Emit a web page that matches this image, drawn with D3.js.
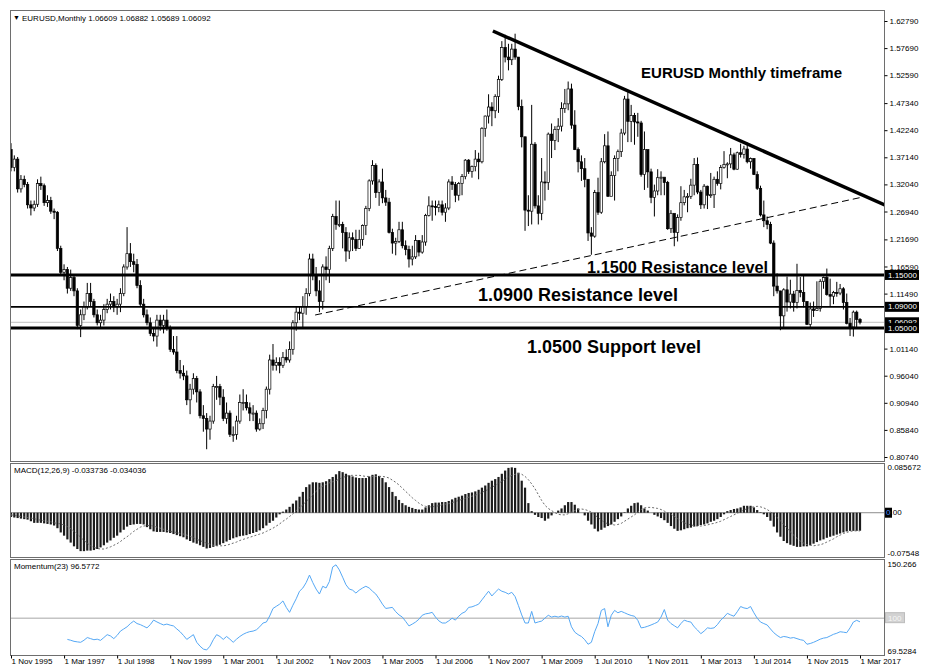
<!DOCTYPE html>
<html>
<head>
<meta charset="utf-8">
<title>EURUSD Monthly</title>
<script src="https://cdn.jsdelivr.net/npm/d3@7"></script>
<style>
  body { margin: 0; background: #fff; }
  svg text { font-family: "Liberation Sans", Arial, sans-serif; }
</style>
</head>
<body>
<div id="chart"></div>
<script>
// Monthly bars from 1 Nov 1995 to 1 Mar 2017 (index 0 .. 256)
// each bar opens where the previous one closed
var firstOpen = 1.386;
var closes = [1.352,1.368,
  1.312,1.330,1.320,1.282,1.276,1.283,1.322,1.318,1.286,1.290,1.270,1.268,
  1.200,1.155,1.160,1.125,1.145,1.120,1.055,1.075,1.090,1.115,1.100,1.075,
  1.060,1.065,1.085,1.095,1.100,1.090,1.095,1.115,1.165,1.190,1.175,1.170,
  1.130,1.095,1.075,1.060,1.040,1.035,1.065,1.055,1.065,1.050,1.010,1.005,
  0.970,0.965,0.960,0.915,0.935,0.955,0.930,0.885,0.880,0.860,0.875,0.940,
  0.940,0.920,0.880,0.890,0.850,0.850,0.875,0.910,0.910,0.900,0.890,0.890,
  0.860,0.870,0.895,0.935,0.990,0.980,0.985,0.980,0.995,0.990,1.010,1.060,
  1.080,1.078,1.090,1.115,1.180,1.150,1.120,1.100,1.165,1.160,1.200,1.260,
  1.245,1.245,1.230,1.195,1.220,1.217,1.200,1.217,1.243,1.275,1.327,1.356,
  1.305,1.325,1.295,1.287,1.230,1.210,1.213,1.235,1.205,1.198,1.180,1.184,
  1.215,1.193,1.212,1.262,1.280,1.279,1.277,1.282,1.268,1.276,1.325,1.320,
  1.300,1.322,1.335,1.366,1.345,1.354,1.368,1.363,1.426,1.449,1.466,1.459,
  1.486,1.518,1.578,1.560,1.555,1.575,1.560,1.467,1.410,1.272,1.270,1.396,
  1.280,1.266,1.325,1.324,1.415,1.403,1.424,1.430,1.463,1.472,1.500,1.432,
  1.386,1.363,1.350,1.330,1.229,1.223,1.305,1.268,1.363,1.393,1.298,1.337,
  1.369,1.382,1.417,1.481,1.439,1.450,1.438,1.436,1.339,1.386,1.344,1.296,
  1.308,1.333,1.334,1.324,1.237,1.266,1.230,1.258,1.286,1.297,1.298,1.319,
  1.358,1.306,1.282,1.317,1.300,1.301,1.330,1.322,1.352,1.358,1.359,1.376,
  1.349,1.380,1.377,1.387,1.363,1.369,1.339,1.313,1.263,1.252,1.245,1.210,
  1.129,1.120,1.073,1.122,1.099,1.114,1.098,1.121,1.117,1.100,1.057,1.086,
  1.083,1.087,1.138,1.145,1.113,1.110,1.117,1.116,1.124,1.098,1.059,1.052,
  1.080,1.06609,1.06092];
var highs = [1.398,1.375,
  1.372,1.338,1.337,1.325,1.290,1.290,1.330,1.335,1.322,1.300,1.297,1.275,
  1.270,1.205,1.170,1.165,1.160,1.150,1.125,1.085,1.100,1.135,1.135,1.105,
  1.085,1.075,1.095,1.105,1.115,1.110,1.105,1.125,1.170,1.240,1.210,1.190,
  1.180,1.140,1.105,1.085,1.070,1.050,1.075,1.075,1.075,1.085,1.055,1.035,
  1.035,0.990,0.980,0.970,0.945,0.965,0.960,0.935,0.905,0.890,0.885,0.945,
  0.960,0.945,0.935,0.910,0.895,0.865,0.885,0.925,0.935,0.925,0.910,0.905,
  0.895,0.880,0.900,0.940,1.000,1.020,0.995,0.995,1.005,1.010,1.025,1.065,
  1.090,1.090,1.110,1.125,1.190,1.190,1.165,1.140,1.170,1.185,1.205,1.265,
  1.290,1.290,1.250,1.240,1.230,1.230,1.235,1.235,1.245,1.280,1.330,1.366,
  1.360,1.330,1.350,1.310,1.295,1.237,1.220,1.250,1.250,1.215,1.205,1.205,
  1.225,1.215,1.225,1.265,1.298,1.290,1.290,1.290,1.290,1.285,1.330,1.336,
  1.325,1.325,1.340,1.368,1.368,1.356,1.385,1.380,1.428,1.450,1.490,1.475,
  1.490,1.525,1.590,1.602,1.585,1.585,1.604,1.560,1.480,1.410,1.300,1.470,
  1.400,1.300,1.370,1.345,1.418,1.435,1.430,1.445,1.475,1.500,1.514,1.510,
  1.460,1.390,1.375,1.370,1.330,1.240,1.310,1.333,1.370,1.415,1.420,1.345,
  1.375,1.386,1.425,1.487,1.494,1.470,1.455,1.455,1.440,1.420,1.385,1.350,
  1.320,1.349,1.345,1.330,1.327,1.272,1.260,1.264,1.317,1.310,1.304,1.331,
  1.370,1.371,1.310,1.321,1.318,1.342,1.335,1.345,1.357,1.383,1.362,1.389,
  1.380,1.382,1.397,1.393,1.399,1.371,1.370,1.345,1.318,1.290,1.260,1.250,
  1.215,1.153,1.120,1.125,1.147,1.141,1.120,1.171,1.146,1.149,1.100,1.098,
  1.100,1.138,1.142,1.147,1.162,1.143,1.120,1.137,1.133,1.127,1.115,1.069,
  1.083,1.083,1.06882];
var lows = [1.345,1.345,
  1.305,1.305,1.315,1.275,1.262,1.270,1.278,1.310,1.280,1.278,1.265,1.255,
  1.195,1.150,1.140,1.115,1.120,1.110,1.048,1.033,1.065,1.085,1.090,1.070,
  1.055,1.050,1.055,1.078,1.085,1.080,1.075,1.080,1.110,1.160,1.165,1.155,
  1.125,1.090,1.070,1.055,1.035,1.025,1.015,1.045,1.040,1.045,1.005,1.000,
  0.965,0.955,0.952,0.905,0.888,0.925,0.910,0.880,0.855,0.822,0.840,0.870,
  0.915,0.905,0.875,0.870,0.845,0.836,0.840,0.870,0.895,0.895,0.875,0.875,
  0.855,0.857,0.860,0.880,0.925,0.970,0.970,0.965,0.975,0.985,0.985,1.000,
  1.045,1.065,1.050,1.075,1.110,1.140,1.110,1.080,1.085,1.140,1.135,1.195,
  1.235,1.240,1.200,1.175,1.180,1.195,1.195,1.200,1.205,1.225,1.270,1.320,
  1.295,1.280,1.285,1.280,1.228,1.190,1.187,1.210,1.200,1.187,1.164,1.168,
  1.180,1.185,1.190,1.205,1.260,1.252,1.262,1.268,1.262,1.250,1.272,1.310,
  1.287,1.290,1.300,1.330,1.340,1.333,1.345,1.330,1.360,1.410,1.435,1.430,
  1.445,1.455,1.515,1.550,1.535,1.545,1.555,1.460,1.390,1.233,1.242,1.245,
  1.275,1.245,1.253,1.290,1.310,1.370,1.385,1.400,1.420,1.455,1.460,1.425,
  1.385,1.343,1.327,1.315,1.214,1.188,1.220,1.263,1.265,1.360,1.297,1.300,
  1.290,1.345,1.372,1.413,1.400,1.400,1.395,1.410,1.335,1.310,1.314,1.285,
  1.260,1.300,1.300,1.300,1.235,1.229,1.204,1.213,1.252,1.281,1.268,1.293,
  1.300,1.302,1.274,1.275,1.274,1.295,1.276,1.318,1.311,1.350,1.332,1.351,
  1.347,1.348,1.371,1.369,1.360,1.350,1.338,1.310,1.260,1.240,1.236,1.208,
  1.110,1.115,1.046,1.052,1.081,1.087,1.081,1.087,1.108,1.089,1.056,1.052,
  1.071,1.083,1.081,1.124,1.111,1.091,1.095,1.109,1.112,1.085,1.057,1.035,
  1.034,1.049,1.05689];

// MACD(12,26,9): main (histogram) and signal, one value per bar
var macdMain = [
  -0.008,-0.009,-0.010,-0.011,-0.012, -0.013,-0.016,-0.019,-0.019,-0.019,
  -0.020,-0.021,-0.022,-0.024,-0.029, -0.037,-0.043,-0.050,-0.056,-0.063,
  -0.068,-0.072,-0.072,-0.071,-0.071, -0.070,-0.068,-0.065,-0.061,-0.056,
  -0.052,-0.047,-0.043,-0.037,-0.032, -0.026,-0.023,-0.022,-0.021,-0.021,
  -0.022,-0.027,-0.031,-0.035,-0.036, -0.036,-0.036,-0.037,-0.038,-0.040,
  -0.042,-0.044,-0.046,-0.050,-0.053, -0.056,-0.058,-0.061,-0.064,-0.067,
  -0.066,-0.064,-0.062,-0.060,-0.057, -0.054,-0.051,-0.048,-0.046,-0.044,
  -0.043,-0.042,-0.040,-0.038,-0.036, -0.033,-0.029,-0.024,-0.019,-0.015,
  -0.009,-0.003,0.002,0.006,0.011, 0.017,0.023,0.030,0.039,0.048,
  0.053,0.057,0.057,0.056,0.057, 0.059,0.063,0.067,0.072,0.078,
  0.076,0.073,0.070,0.068,0.066, 0.065,0.065,0.065,0.068,0.071,
  0.072,0.069,0.065,0.057,0.048, 0.039,0.031,0.024,0.018,0.014,
  0.011,0.009,0.007,0.006,0.006, 0.010,0.014,0.018,0.019,0.019,
  0.020,0.020,0.022,0.025,0.028, 0.030,0.032,0.035,0.037,0.038,
  0.040,0.043,0.047,0.051,0.056, 0.060,0.063,0.067,0.073,0.079,
  0.084,0.085,0.084,0.075,0.060, 0.047,0.018,0.003,-0.004,-0.008,
  -0.010,-0.015,-0.011,-0.005,0.000, 0.004,0.008,0.014,0.020,0.020,
  0.015,0.008,0.000,-0.005,-0.015, -0.022,-0.030,-0.035,-0.032,-0.028,
  -0.025,-0.022,-0.017,-0.012,-0.007, 0.001,0.008,0.013,0.018,0.019,
  0.014,0.008,0.004,0.000,-0.004, -0.007,-0.010,-0.014,-0.019,-0.025,
  -0.030,-0.034,-0.033,-0.031,-0.029, -0.028,-0.026,-0.025,-0.023,-0.022,
  -0.020,-0.017,-0.015,-0.012,-0.008, -0.003,0.003,0.005,0.007,0.008,
  0.010,0.013,0.013,0.013,0.010, 0.005,0.001,-0.003,-0.008,-0.015,
  -0.026,-0.037,-0.045,-0.053,-0.057, -0.060,-0.062,-0.064,-0.064,-0.063,
  -0.063,-0.061,-0.058,-0.055,-0.052, -0.050,-0.047,-0.045,-0.043,-0.041,
  -0.039,-0.037,-0.035,-0.034,-0.034, -0.034,-0.033736];
var macdSignal = [
  -0.004,-0.005,-0.006,-0.007,-0.008, -0.009,-0.010,-0.011,-0.013,-0.014,
  -0.015,-0.016,-0.017,-0.019,-0.020, -0.021,-0.023,-0.026,-0.030,-0.035,
  -0.040,-0.046,-0.052,-0.057,-0.062, -0.065,-0.067,-0.068,-0.068,-0.066,
  -0.064,-0.061,-0.058,-0.054,-0.049, -0.045,-0.040,-0.035,-0.031,-0.027,
  -0.025,-0.024,-0.024,-0.025,-0.027, -0.029,-0.031,-0.033,-0.035,-0.036,
  -0.037,-0.039,-0.040,-0.042,-0.044, -0.047,-0.050,-0.052,-0.055,-0.057,
  -0.059,-0.061,-0.062,-0.062,-0.062, -0.061,-0.059,-0.057,-0.055,-0.052,
  -0.050,-0.048,-0.046,-0.044,-0.042, -0.040,-0.038,-0.035,-0.032,-0.029,
  -0.025,-0.021,-0.016,-0.012,-0.007, -0.002,0.004,0.009,0.015,0.021,
  0.027,0.034,0.040,0.046,0.050, 0.053,0.056,0.058,0.060,0.063,
  0.066,0.068,0.070,0.070,0.070, 0.070,0.069,0.068,0.068,0.068,
  0.068,0.068,0.068,0.067,0.065, 0.061,0.057,0.052,0.046,0.040,
  0.034,0.028,0.023,0.018,0.014, 0.012,0.011,0.011,0.012,0.013,
  0.015,0.016,0.017,0.019,0.021, 0.023,0.025,0.027,0.029,0.031,
  0.033,0.035,0.038,0.041,0.044, 0.048,0.051,0.055,0.059,0.063,
  0.067,0.070,0.072,0.073,0.072, 0.068,0.062,0.054,0.045,0.034,
  0.023,0.014,0.008,0.004,0.000, -0.003,-0.004,-0.004,-0.002,0.001,
  0.004,0.006,0.007,0.006,0.004, 0.001,-0.004,-0.009,-0.014,-0.018,
  -0.021,-0.022,-0.023,-0.022,-0.020, -0.016,-0.012,-0.008,-0.004,0.001,
  0.006,0.009,0.010,0.010,0.009, 0.008,0.006,0.003,0.000,-0.003,
  -0.007,-0.011,-0.015,-0.019,-0.021, -0.023,-0.024,-0.025,-0.025,-0.024,
  -0.023,-0.021,-0.020,-0.018,-0.016, -0.013,-0.010,-0.007,-0.004,-0.001,
  0.002,0.005,0.008,0.010,0.011, 0.012,0.011,0.009,0.006,0.002,
  -0.003,-0.009,-0.015,-0.022,-0.029, -0.036,-0.042,-0.048,-0.053,-0.057,
  -0.060,-0.061,-0.062,-0.061,-0.060, -0.058,-0.055,-0.052,-0.049,-0.045,
  -0.042,-0.039,-0.037,-0.035,-0.034, -0.034,-0.034036];

// Momentum(23), first value at bar 17
var momStart = 17;
var momentum = [
  80.3,79.5,78.5,78.0,77.6, 79.5,82.0,81.0,80.0,80.5, 79.4,82.0,84.7,83.5,81.0,
  84.0,88.0,90.0,92.0,95.0, 97.3,95.0,94.0,92.5,91.0, 94.0,98.2,96.5,95.0,93.7,
  94.5,93.5,92.8,90.0,87.4, 84.0,80.3,82.5,84.7,77.6, 74.0,71.3,70.5,74.0,80.0,
  84.7,83.0,80.3,83.0,80.5, 77.6,80.5,83.0,85.0,86.5, 87.5,88.0,89.2,92.0,95.5,
  96.4,102.0,109.0,111.0,113.0, 116.0,110.0,105.4,112.0,118.0, 125.0,128.0,133.0,140.0,133.0,
  127.0,122.4,129.6,128.0,134.0, 147.5,149.5,144.8,138.0,131.0, 127.0,126.0,123.3,126.0,128.0,
  129.6,128.0,125.0,122.4,118.0, 113.0,109.0,109.5,110.0,106.0, 103.0,101.0,97.0,92.8,94.5,
  96.4,99.0,102.7,104.0,104.5, 105.4,101.0,97.5,95.5,95.5, 97.5,100.0,98.2,101.8,104.5,
  106.0,110.0,110.5,111.7,113.0, 117.0,121.0,125.0,120.6,124.0, 127.0,125.0,124.0,122.4,124.0,
  120.0,111.7,103.0,95.5,95.5, 106.3,95.5,96.5,97.3,100.0, 102.7,101.0,101.8,101.0,102.0,
  101.0,101.8,92.0,87.0,84.7, 83.0,80.0,75.8,77.6,87.4, 95.0,107.2,108.9,92.0,102.7,
  107.2,105.0,106.3,105.0,103.6, 102.5,101.8,98.0,91.0,91.5, 92.5,93.7,95.0,96.4,101.0,
  108.0,98.2,95.0,93.0,91.0, 95.0,98.2,97.0,96.4,92.0, 89.0,85.6,88.0,91.0,90.5,
  91.0,94.0,98.2,101.0,104.5, 103.0,101.8,106.0,110.8,109.5, 108.9,110.8,105.0,100.0,96.4,
  95.0,93.7,90.0,86.5,84.0, 82.0,83.0,82.5,81.5,82.0, 81.0,80.0,79.4,75.8,76.5,
  77.6,79.0,80.5,81.5,82.0, 83.5,85.0,86.0,87.4,87.0, 86.5,91.0,96.4,98.0,96.5772];

var dateTickIdx = [0,16,32,48,64,80,96,112,128,144,160,176,192,208,224,240,256];
var dateLabels = ["1 Nov 1995","1 Mar 1997","1 Jul 1998","1 Nov 1999","1 Mar 2001","1 Jul 2002",
  "1 Nov 2003","1 Mar 2005","1 Jul 2006","1 Nov 2007","1 Mar 2009","1 Jul 2010",
  "1 Nov 2011","1 Mar 2013","1 Jul 2014","1 Nov 2015","1 Mar 2017"];
var priceTicks = [1.62790,1.57690,1.52590,1.47340,1.42240,1.37140,1.32040,1.26940,
  1.21690,1.16590,1.11490,1.01140,0.96040,0.90940,0.85840,0.80740];
var levelPrices = [1.15, 1.09, 1.05];
var lastPrice = 1.06092;
var macdTicks = [0.085672, -0.07548];
var macdTickLabels = ["0.085672", "-0.07548"];
var momTicks = [150.266, 69.5284];
var momTickLabels = ["150.266", "69.5284"];

// trend lines as [bar index, price] anchors
var resistLine = [[145.3, 1.6091], [263.5, 1.2816]];
var supportLine = [[91.7, 1.0746], [256.9, 1.2967]];

// text objects anchored at [bar index, price]
var noteText = ["EURUSD Monthly timeframe", "1.1500 Resistance level", "1.0900 Resistance level", "1.0500 Support level"];
var noteIdx = [190.0, 173.7, 140.8, 155.6];
var notePrice = [1.5206, 1.1537, 1.1010, 1.0031];

// ---- layout ----
var W = 932, H = 666;
var left = 10, right = 884;
var mainP = { top: 10, bottom: 461 };
var macdP = { top: 463, bottom: 557 };
var momP = { top: 559, bottom: 655 };

var svg = d3.select("#chart").append("svg")
    .attr("width", W).attr("height", H).style("display", "block");
svg.append("rect").attr("width", W).attr("height", H).attr("fill", "#fff");

var x = d3.scaleLinear().domain([0, closes.length - 1]).range([11, 860]);
var y = d3.scaleLinear().domain([0.8074, 1.6279]).range([457, 21]);
var ym = d3.scaleLinear().domain([-0.07548, 0.085672]).range([553, 467]);
var yq = d3.scaleLinear().domain([69.5284, 150.266]).range([651, 564]);

var defs = svg.append("defs");
[["clipMain", mainP], ["clipMacd", macdP], ["clipMom", momP]].forEach(function (c) {
    defs.append("clipPath").attr("id", c[0]).append("rect")
        .attr("x", left).attr("y", c[1].top)
        .attr("width", right - left).attr("height", c[1].bottom - c[1].top);
});

var bars = closes.map(function (c, i) {
    return { i: i, o: i ? closes[i - 1] : firstOpen, h: highs[i], l: lows[i], c: c };
});

// ---- main panel ----
var gm = svg.append("g").attr("clip-path", "url(#clipMain)");

// bid line
gm.append("line")
    .attr("x1", left).attr("x2", right)
    .attr("y1", y(lastPrice)).attr("y2", y(lastPrice))
    .attr("stroke", "#c0c0c0").attr("stroke-width", 1);

gm.selectAll(".wick").data(bars).join("line").attr("class", "wick")
    .attr("x1", function (d) { return x(d.i); })
    .attr("x2", function (d) { return x(d.i); })
    .attr("y1", function (d) { return y(d.h); })
    .attr("y2", function (d) { return y(d.l); })
    .attr("stroke", "#000").attr("stroke-width", 1);

gm.selectAll(".body").data(bars).join("rect").attr("class", "body")
    .attr("x", function (d) { return x(d.i) - 1.2; })
    .attr("width", 2.4)
    .attr("y", function (d) { return y(Math.max(d.o, d.c)); })
    .attr("height", function (d) { return Math.max(1, Math.abs(y(d.o) - y(d.c))); })
    .attr("fill", function (d) { return d.c >= d.o ? "#fff" : "#000"; })
    .attr("stroke", "#000").attr("stroke-width", 0.7);

// horizontal levels
var levelWidth = [3, 1.6, 3];
gm.selectAll(".level").data(levelPrices).join("line").attr("class", "level")
    .attr("x1", left).attr("x2", right)
    .attr("y1", function (d) { return y(d); })
    .attr("y2", function (d) { return y(d); })
    .attr("stroke", "#000")
    .attr("stroke-width", function (d, k) { return levelWidth[k]; });

var tline = d3.line().x(function (d) { return x(d[0]); }).y(function (d) { return y(d[1]); });
gm.append("path").datum(supportLine).attr("d", tline)
    .attr("fill", "none").attr("stroke", "#000").attr("stroke-width", 1)
    .attr("stroke-dasharray", "7,4");
gm.append("path").datum(resistLine).attr("d", tline)
    .attr("fill", "none").attr("stroke", "#000").attr("stroke-width", 3.5);

var noteSize = [15, 16.3, 18, 18];
gm.selectAll(".note").data(noteText).join("text").attr("class", "note")
    .attr("x", function (d, k) { return x(noteIdx[k]); })
    .attr("y", function (d, k) { return y(notePrice[k]); })
    .attr("font-weight", "bold")
    .attr("font-size", function (d, k) { return noteSize[k]; })
    .attr("fill", "#000")
    .text(function (d) { return d; });

// ---- MACD panel ----
var gd = svg.append("g").attr("clip-path", "url(#clipMacd)");
gd.append("line").attr("x1", left).attr("x2", right)
    .attr("y1", ym(0)).attr("y2", ym(0))
    .attr("stroke", "#8c8c8c").attr("stroke-width", 1);
gd.selectAll(".hist").data(macdMain).join("rect").attr("class", "hist")
    .attr("x", function (d, i) { return x(i) - 1.1; })
    .attr("width", 2.2)
    .attr("y", function (d) { return Math.min(ym(d), ym(0)); })
    .attr("height", function (d) { return Math.abs(ym(d) - ym(0)); })
    .attr("fill", "#1c1c1c");
gd.append("path").datum(macdSignal)
    .attr("d", d3.line().x(function (d, i) { return x(i); }).y(function (d) { return ym(d); }))
    .attr("fill", "none").attr("stroke", "#6a6a6a").attr("stroke-width", 1)
    .attr("stroke-dasharray", "2,2");

// ---- Momentum panel ----
var gq = svg.append("g").attr("clip-path", "url(#clipMom)");
gq.append("line").attr("x1", left).attr("x2", right)
    .attr("y1", yq(100)).attr("y2", yq(100))
    .attr("stroke", "#c4c4c4").attr("stroke-width", 1.5);
gq.append("path").datum(momentum)
    .attr("d", d3.line().x(function (d, k) { return x(k + momStart); }).y(function (d) { return yq(d); }))
    .attr("fill", "none").attr("stroke", "#55a8f5").attr("stroke-width", 1);

// ---- frames ----
[mainP, macdP, momP].forEach(function (p) {
    svg.append("rect")
        .attr("x", left + 0.5).attr("y", p.top + 0.5)
        .attr("width", right - left).attr("height", p.bottom - p.top)
        .attr("fill", "none").attr("stroke", "#6e6e6e").attr("stroke-width", 1);
});

// ---- axes ----
function styleAxis(g) {
    g.attr("font-family", "'Liberation Sans', Arial, sans-serif").attr("font-size", 8);
    g.select(".domain").remove();
    g.selectAll("text").attr("fill", "#000");
}

svg.append("g").attr("transform", "translate(" + (right + 0.5) + ",0)")
    .call(d3.axisRight(y).tickValues(priceTicks).tickSize(3).tickPadding(2)
        .tickFormat(d3.format(".5f")))
    .call(styleAxis);

svg.append("g").attr("transform", "translate(" + (right + 0.5) + ",0)")
    .call(d3.axisRight(ym).tickValues(macdTicks).tickSize(0).tickPadding(3)
        .tickFormat(function (d, k) { return macdTickLabels[k]; }))
    .call(styleAxis);

svg.append("g").attr("transform", "translate(" + (right + 0.5) + ",0)")
    .call(d3.axisRight(yq).tickValues(momTicks).tickSize(0).tickPadding(3)
        .tickFormat(function (d, k) { return momTickLabels[k]; }))
    .call(styleAxis);

var xg = svg.append("g").attr("transform", "translate(0," + (momP.bottom + 0.5) + ")")
    .call(d3.axisBottom(x).tickValues(dateTickIdx).tickSize(3)
        .tickFormat(function (d, k) { return dateLabels[k]; }))
    .call(styleAxis);
xg.selectAll("text").attr("text-anchor", "start").attr("x", 0).attr("y", 3);

// price markers on the axis (drawn in this order so 1.05 sits on top)
var markerPrices = [1.15, 1.09, lastPrice, 1.05];
var mk = svg.append("g").attr("font-size", 8);
markerPrices.forEach(function (p) {
    mk.append("rect").attr("x", right + 1).attr("y", y(p) - 5)
        .attr("width", 34).attr("height", 10).attr("fill", "#000");
    mk.append("text").attr("x", right + 4).attr("y", y(p)).attr("dy", "0.32em")
        .attr("fill", "#fff").text(d3.format(".5f")(p));
});

// zero marker in MACD window
svg.append("rect").attr("x", right + 1).attr("y", ym(0) - 5)
    .attr("width", 7).attr("height", 10).attr("fill", "#000");
svg.append("text").attr("x", right + 2).attr("y", ym(0)).attr("dy", "0.32em")
    .attr("font-size", 8)
    .call(function (t) {
        t.append("tspan").attr("fill", "#4a8cff").text("0");
        t.append("tspan").attr("fill", "#000").text(".00");
    });

// 100 marker in Momentum window
svg.append("rect").attr("x", right + 1.5).attr("y", yq(100) - 5.5)
    .attr("width", 19).attr("height", 10).attr("fill", "#d2d2d2")
    .attr("stroke", "#bdbdbd").attr("stroke-width", 1);
svg.append("text").attr("x", right + 4).attr("y", yq(100)).attr("dy", "0.32em")
    .attr("font-size", 8).attr("fill", "#f6f6f6").text("100");

// ---- window captions ----
svg.append("text").attr("x", 13).attr("y", 20).attr("font-size", 7)
    .attr("font-family", "'DejaVu Sans', sans-serif").text("\u25BC");
svg.append("text").attr("x", 22).attr("y", 21).attr("font-size", 8)
    .text("EURUSD,Monthly  1.06609 1.06882 1.05689 1.06092");
svg.append("text").attr("x", 14).attr("y", 473).attr("font-size", 8)
    .text("MACD(12,26,9) -0.033736 -0.034036");
svg.append("text").attr("x", 14).attr("y", 569).attr("font-size", 8)
    .text("Momentum(23) 96.5772");
</script>
</body>
</html>
